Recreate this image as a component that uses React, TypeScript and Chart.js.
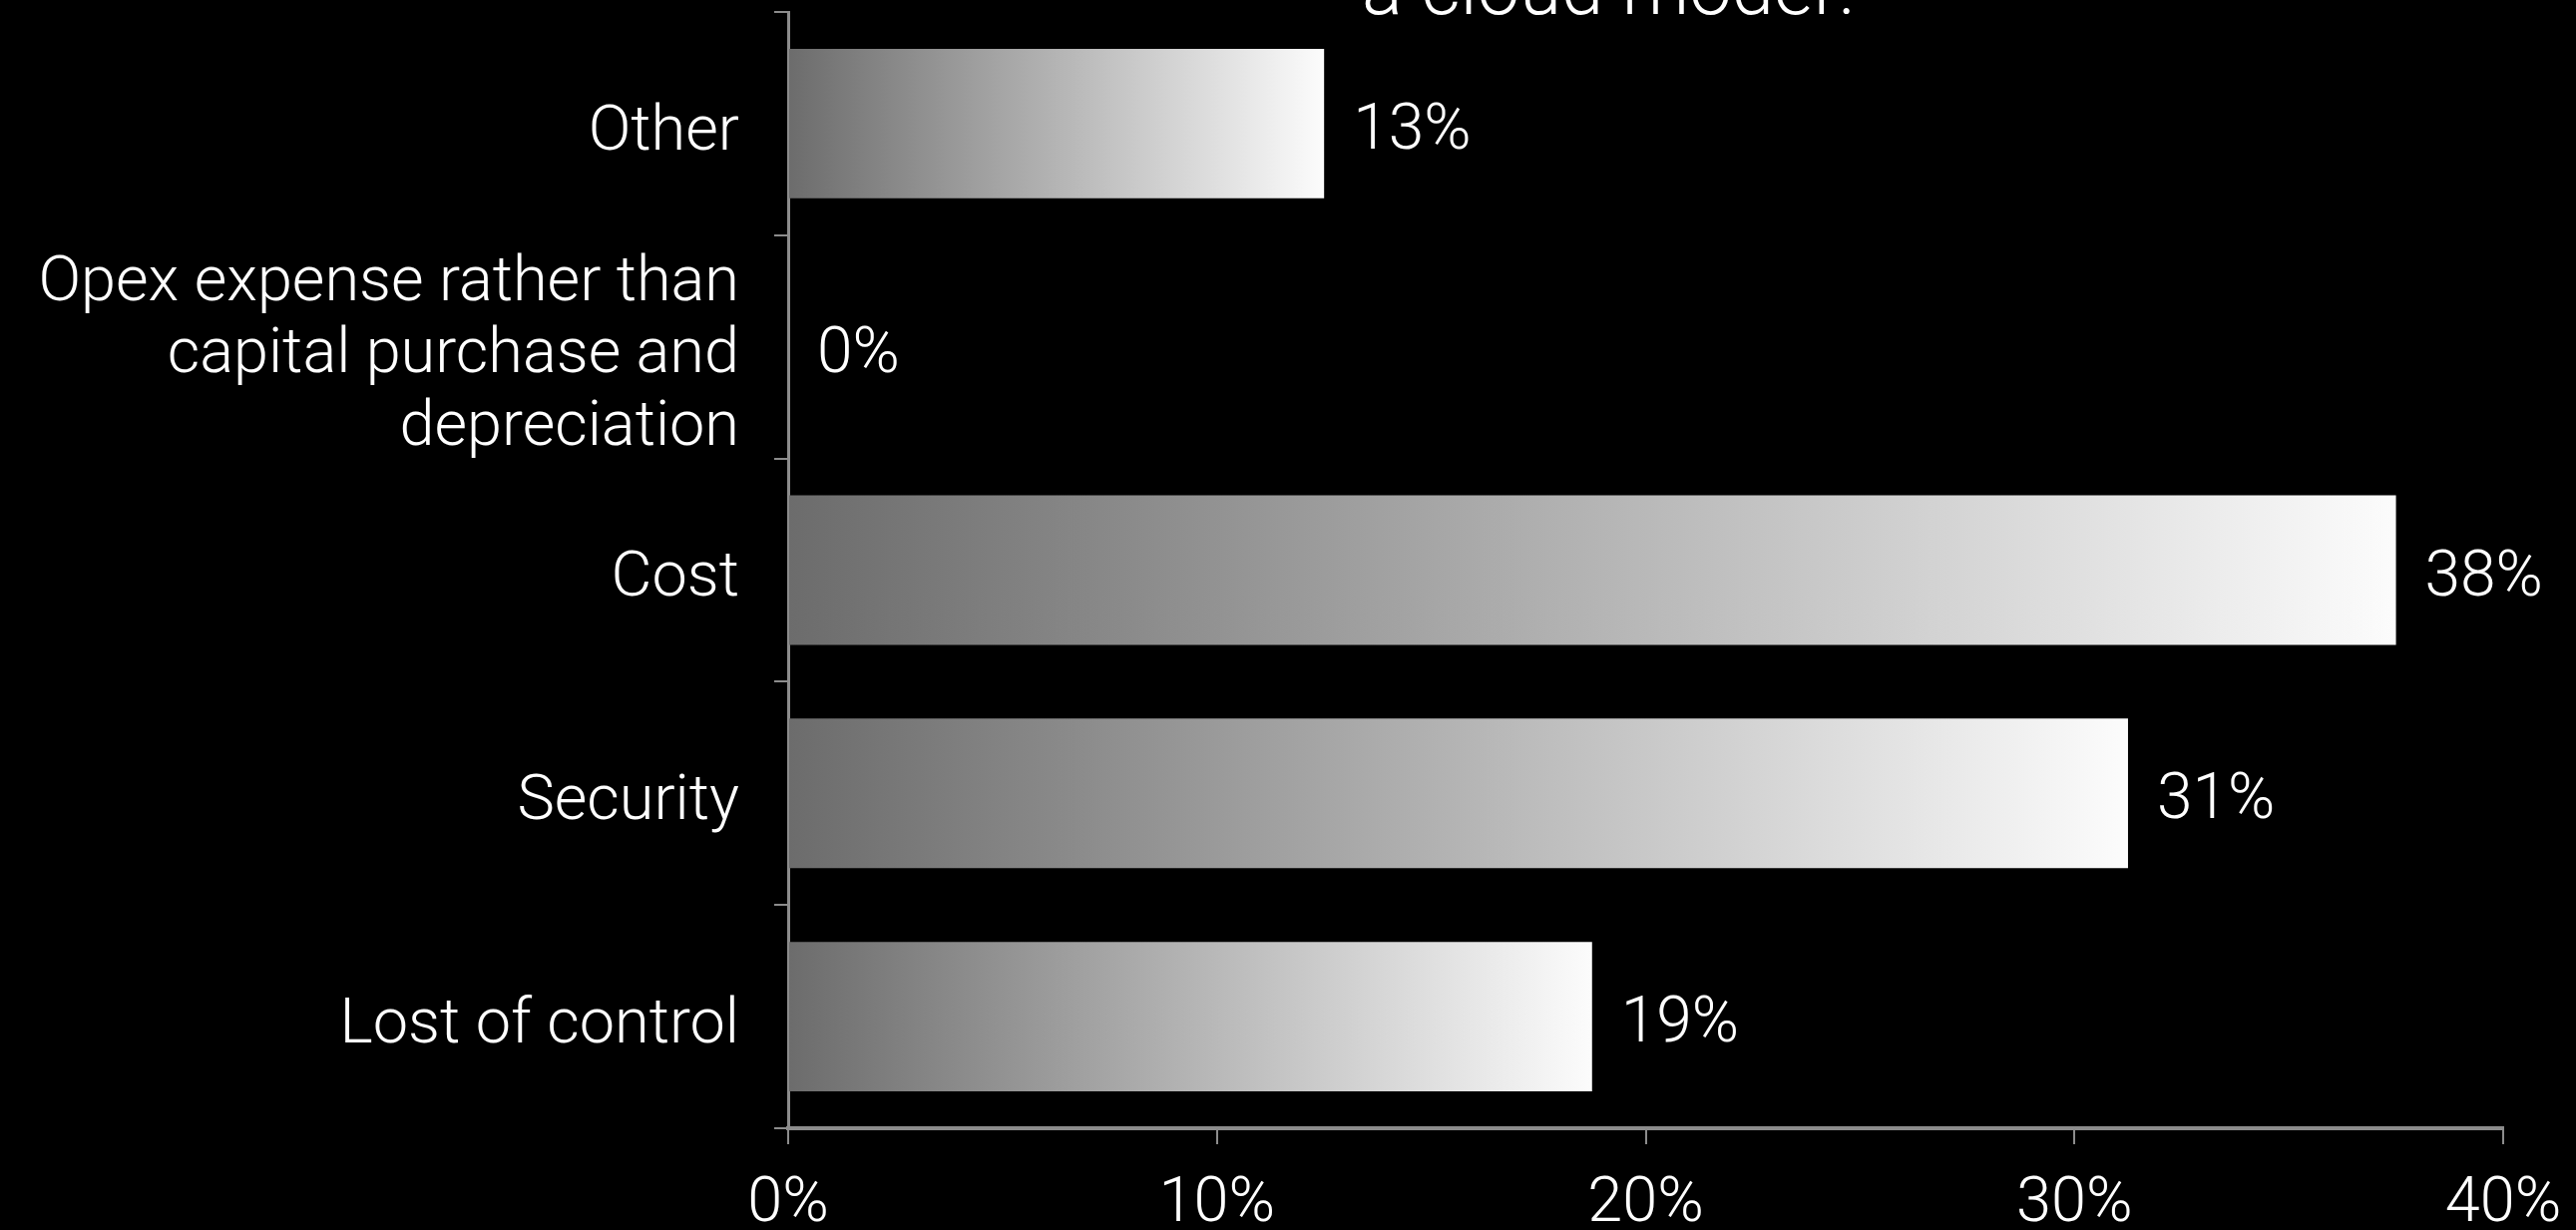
import React, { useEffect, useRef } from "react";
import { Chart, registerables } from "chart.js";

Chart.register(...registerables);

const categories: (string | string[])[] = [
  "Other",
  ["Opex expense rather than", "capital purchase and", "depreciation"],
  "Cost",
  "Security",
  "Lost of control",
];
const shares: number[] = [12.5, 0, 37.5, 31.25, 18.75];
const xTicks: number[] = [0, 10, 20, 30, 40];
const titleLines: string[] = ["a cloud model?"];

const FONT = "Roboto, 'Helvetica Neue', 'Liberation Sans', sans-serif";
const AXIS = "#8c8c8c";

const bgPlugin = {
  id: "bg",
  beforeDraw(chart: any) {
    const { ctx, width, height } = chart;
    ctx.save();
    ctx.fillStyle = "#000";
    ctx.fillRect(0, 0, width, height);
    ctx.restore();
  },
};

const titlePlugin = {
  id: "cutTitle",
  afterDraw(chart: any) {
    const { ctx } = chart;
    ctx.save();
    ctx.fillStyle = "#fff";
    ctx.font = `300 76px ${FONT}`;
    ctx.textAlign = "center";
    ctx.textBaseline = "alphabetic";
    const lh = 90;
    titleLines.forEach((t, i) => {
      ctx.fillText(t, 1617, 14 - (titleLines.length - 1 - i) * lh);
    });
    ctx.restore();
  },
};

const valueLabelPlugin = {
  id: "valueLabels",
  afterDatasetsDraw(chart: any) {
    const { ctx } = chart;
    const meta = chart.getDatasetMeta(0);
    ctx.save();
    ctx.fillStyle = "#fff";
    ctx.font = `300 64px ${FONT}`;
    ctx.textAlign = "left";
    ctx.textBaseline = "middle";
    meta.data.forEach((bar: any, i: number) => {
      const v = shares[i];
      ctx.fillText(`${Math.round(v)}%`, bar.x + 29, bar.y + 9);
    });
    ctx.restore();
  },
};

export default function App() {
  const ref = useRef<HTMLCanvasElement | null>(null);

  useEffect(() => {
    document.body.style.background = "#000";
    const canvas = ref.current!;
    const chart = new Chart(canvas, {
      type: "bar",
      data: {
        labels: categories as any,
        datasets: [
          {
            data: shares,
            backgroundColor: (c: any) => {
              const ch = c.chart;
              const xs = ch.scales?.x;
              if (!ch.chartArea || !xs || c.raw == null) return "#aaa";
              const x0 = xs.getPixelForValue(0);
              const x1 = xs.getPixelForValue(c.raw);
              if (x1 - x0 < 1) return "#6e6e6e";
              const g = ch.ctx.createLinearGradient(x0, 0, x1, 0);
              g.addColorStop(0, "#6c6c6c");
              g.addColorStop(0.5, "#b4b4b4");
              g.addColorStop(1, "#fcfcfc");
              return g;
            },
            borderWidth: 0,
            categoryPercentage: 1,
            barPercentage: 0.67,
          },
        ],
      },
      options: {
        indexAxis: "y",
        responsive: false,
        animation: false,
        devicePixelRatio: 1,
        layout: { padding: { left: 0, right: 73, top: 12, bottom: 0 } },
        plugins: {
          legend: { display: false },
          tooltip: { enabled: false },
          title: { display: false },
        },
        scales: {
          x: {
            type: "linear",
            min: 0,
            max: 40,
            afterBuildTicks: (s: any) => {
              s.ticks = xTicks.map((v) => ({ value: v }));
            },
            afterFit: (s: any) => {
              s.height = 102;
              s.paddingLeft = 0;
              s.paddingRight = 0;
            },
            ticks: {
              color: "#fff",
              font: { family: FONT, size: 63, weight: "300" },
              padding: 23,
              maxRotation: 0,
              callback: (v: any) => `${v}%`,
            },
            grid: {
              drawOnChartArea: false,
              drawTicks: true,
              tickLength: 16,
              color: AXIS,
              lineWidth: 2,
            },
            border: { display: true, color: AXIS, width: 4 },
          },
          y: {
            type: "category",
            afterFit: (s: any) => {
              s.width = 790;
              s.paddingTop = 0;
              s.paddingBottom = 0;
            },
            ticks: {
              color: "#fff",
              font: { family: FONT, size: 63, weight: "300", lineHeight: 1.15 },
              padding: 35,
              labelOffset: 10,
            },
            grid: {
              offset: true,
              drawOnChartArea: false,
              drawTicks: true,
              tickLength: 14,
              color: AXIS,
              lineWidth: 2,
            },
            border: { display: true, color: AXIS, width: 3 },
          },
        },
      },
      plugins: [bgPlugin, valueLabelPlugin, titlePlugin],
    } as any);
    return () => chart.destroy();
  }, []);

  return (
    <div style={{ position: "fixed", left: 0, top: 0, width: 2582, height: 1233, background: "#000" }}>
      <canvas ref={ref} width={2582} height={1233} style={{ display: "block", width: 2582, height: 1233 }} />
    </div>
  );
}
